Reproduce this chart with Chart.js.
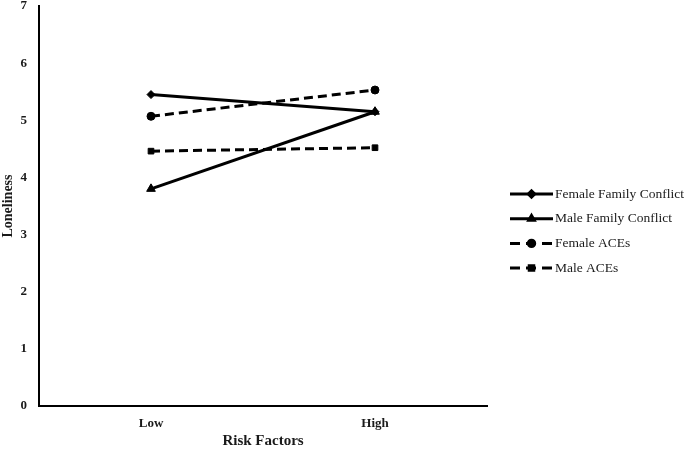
<!DOCTYPE html>
<html>
<head>
<meta charset="utf-8">
<script src="https://cdn.jsdelivr.net/npm/chart.js@4.4.1/dist/chart.umd.min.js"></script>
<style>
  html, body { margin: 0; padding: 0; background: #fff; }
  #wrap { width: 690px; height: 450px; }
</style>
</head>
<body>
<div id="wrap"><canvas id="c" width="690" height="450"></canvas></div>
<script>
const categories = ["Low", "High"];
const seriesNames = ["Female Family Conflict", "Male Family Conflict", "Female ACEs", "Male ACEs"];
const femaleFamilyConflict = [5.45, 5.15];
const maleFamilyConflict = [3.80, 5.15];
const femaleACEs = [5.07, 5.53];
const maleACEs = [4.46, 4.52];
const yTicks = [0, 1, 2, 3, 4, 5, 6, 7];

const FONT = "'Liberation Serif', 'Times New Roman', serif";
const INK = "#000";

function ds(label, data, pointStyle, dash) {
  return {
    label, data, pointStyle,
    borderColor: INK, backgroundColor: INK,
    pointBackgroundColor: INK, pointBorderColor: INK,
    borderWidth: 3, pointRadius: pointStyle === 'triangle' ? 5 : 4,
    pointBorderWidth: 1,
    borderDash: dash, tension: 0
  };
}

const legendPlugin = {
  id: 'customLegend',
  afterDraw(chart) {
    const ctx = chart.ctx;
    const x0 = 510, x1 = 553, yStart = 194, step = 24.7;
    chart.data.datasets.forEach((d, i) => {
      const y = yStart + i * step;
      ctx.save();
      ctx.strokeStyle = INK;
      ctx.lineWidth = 3;
      ctx.setLineDash(d.borderDash && d.borderDash.length ? [10, 6] : []);
      ctx.beginPath();
      ctx.moveTo(x0, y);
      ctx.lineTo(x1, y);
      ctx.stroke();
      ctx.setLineDash([]);
      ctx.fillStyle = INK;
      Chart.helpers.drawPoint(ctx, {pointStyle: d.pointStyle, radius: 3.2, rotation: 0, borderWidth: 1}, (x0 + x1) / 2, y);
      ctx.fill();
      ctx.font = "13.5px " + FONT;
      ctx.textBaseline = 'middle';
      ctx.textAlign = 'left';
      ctx.fillStyle = "#1a1a1a";
      ctx.fillText(d.label, x1 + 2, y);
      ctx.restore();
    });
  }
};

new Chart(document.getElementById('c'), {
  type: 'line',
  data: {
    labels: categories,
    datasets: [
      ds(seriesNames[0], femaleFamilyConflict, 'rectRot', []),
      ds(seriesNames[1], maleFamilyConflict, 'triangle', []),
      ds(seriesNames[2], femaleACEs, 'circle', [9, 5]),
      ds(seriesNames[3], maleACEs, 'rect', [9, 5])
    ]
  },
  options: {
    responsive: false,
    animation: false,
    devicePixelRatio: 1,
    layout: { padding: { top: 5, right: 203, left: 0, bottom: 0 } },
    plugins: { legend: { display: false }, tooltip: { enabled: false } },
    scales: {
      x: {
        type: 'category',
        offset: true,
        grid: { display: false, drawTicks: false },
        border: { display: true, color: INK, width: 2 },
        ticks: { color: "#1a1a1a", padding: 10, font: { family: FONT, size: 13, weight: 'bold' } },
        title: { display: true, text: "Risk Factors", color: "#1a1a1a", padding: 0, font: { family: FONT, size: 15, weight: 'bold' } },
        afterFit(s) { s.height = 44; s.paddingLeft = 0; s.paddingRight = 0; }
      },
      y: {
        min: 0, max: 7,
        grid: { display: false, drawTicks: false },
        border: { display: true, color: INK, width: 2 },
        afterBuildTicks(s) { s.ticks = yTicks.map(v => ({ value: v })); },
        ticks: { color: "#1a1a1a", padding: 12, font: { family: FONT, size: 13, weight: 'bold' } },
        title: { display: true, text: "Loneliness", color: "#1a1a1a", padding: 0, font: { family: FONT, size: 14, weight: 'bold' } },
        afterFit(s) { s.width = 39; s.paddingTop = 0; s.paddingBottom = 0; }
      }
    }
  },
  plugins: [legendPlugin]
});
</script>
</body>
</html>
